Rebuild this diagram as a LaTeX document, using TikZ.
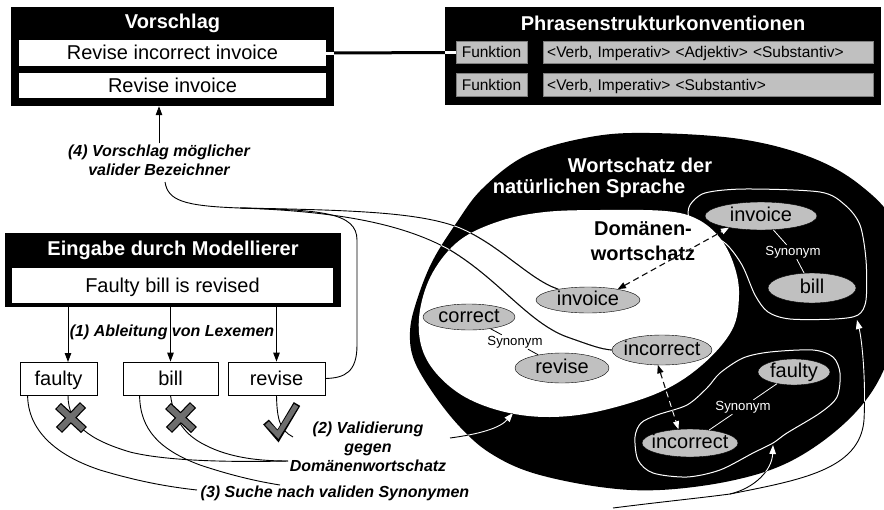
\documentclass[tikz,border=0pt]{standalone}
\usepackage{fontspec}
\setmainfont{Liberation Sans}
\usetikzlibrary{arrows.meta,shapes.geometric}
\definecolor{lgray}{RGB}{192,192,192}
\definecolor{mgray}{RGB}{110,110,110}
\newcommand\zc[1]{\makebox[0pt]{#1}}
\newcommand\outerpath{plot[smooth cycle, tension=0.6] coordinates {(650,133) (740,139) (810,157) (860,185) (895,225) (905,290) (895,340) (873,390) (837,430) (787,463) (730,481) (660,490) (600,487) (533,473) (490,453) (460,427) (433,393) (414,360) (410,332) (416,303) (432,262) (457,222) (483,188) (527,155) (590,137)}}
\newcommand\innerpath{plot[smooth cycle, tension=0.6] coordinates {(600,210) (665,211) (697,219) (720,238) (734,265) (739,295) (732,330) (702,365) (660,392) (600,411) (550,417) (505,412) (465,397) (436,373) (421,345) (420,310) (433,272) (460,240) (500,221) (545,212)}}
\tikzset{
  ttl/.style={font=\fontsize{20}{24}\selectfont\bfseries, text=white, inner sep=0pt},
  blk/.style={fill=black, draw=none, inner sep=0pt},
  rowbox/.style={fill=white, draw=none, inner sep=0pt, font=\fontsize{20}{24}\selectfont, text height=13pt, text depth=0pt},
  gbox/.style={fill=lgray, draw=gray, inner sep=0pt, font=\fontsize{15.5}{18}\selectfont, text height=10.5pt, text depth=0pt},
  wordbox/.style={draw=black, fill=white, line width=0.8pt, inner sep=0pt, font=\fontsize{20}{24}\selectfont, minimum height=33, text height=13pt, text depth=0pt},
  lab/.style={font=\fontsize{16}{19}\selectfont\bfseries\itshape, align=center, inner sep=1pt},
  ell/.style={ellipse, draw=black, fill=lgray, inner sep=0pt, font=\fontsize{20}{24}\selectfont, text height=10.5pt, text depth=0pt},
  syn/.style={font=\fontsize{13.2}{15}\selectfont, inner sep=1pt},
  conn/.style={draw, line width=0.9pt},
  arr/.style={-{Triangle[length=9pt,width=6.5pt]}},
  darr/.style={{Triangle[length=8pt,width=6pt]}-{Triangle[length=8pt,width=6pt]}, dash pattern=on 6pt off 4pt},
  xmk/.pic={
    \draw[line width=8.5pt] (-13,-12) -- (13,12) (12,-13) -- (-12,12);
    \draw[mgray, line width=6pt] (-12.2,-11.2) -- (12.2,11.2) (11.2,-12.2) -- (-11.2,11.2);
  },
}
\newcommand\allconns{%
  \draw[conn] (p4) .. controls (168,200) and (182,206) .. (j4);
  \draw[conn] (j4) .. controls (350,210) and (420,212) .. (460,228) .. controls (500,245) and (530,280) .. (invD.160);
  \draw[conn] (j4) .. controls (330,211) and (400,222) .. (450,250) .. controls (500,280) and (530,325) .. (570,338) .. controls (590,345) and (600,349) .. (incD.west);
  \draw[conn] (j4) .. controls (320,210) and (357,212) .. (357,240) -- (357,345) .. controls (357,372) and (345,378) .. (wr.east);
  \draw[conn,darr] (invD.20) -- (invO.200);
  \draw[conn,darr] (incD.255) -- (incO.130);
  \draw[conn,arr] (v2s) .. controls (480,434) and (500,428) .. (v2e);
  \draw[conn] (s3) .. controls (660,502) and (700,498) .. (j3);
  \draw[conn,arr] (j3) .. controls (755,488) and (772,470) .. (b2);
  \draw[conn,arr] (j3) .. controls (800,480) and (860,470) .. (864,420) .. controls (866,380) and (862,340) .. (b1);
}
\begin{document}
\begin{tikzpicture}[x=1pt,y=-1pt]
\useasboundingbox (0,0) rectangle (884,509);

% ---------- Vorschlag ----------
\node[blk, minimum width=323, minimum height=99] (vor) at (172.5,56.5) {};
\node[ttl] (vort) at (172.5,23) {Vorschlag};
\node[rowbox, minimum width=307, minimum height=26] (r1) at (172.5,53) {Revise incorrect invoice};
\node[rowbox, minimum width=307, minimum height=25] (r2) at (172.5,85.5) {Revise invoice};

% ---------- Phrasenstrukturkonventionen ----------
\node[blk, minimum width=436, minimum height=98] (phr) at (663,56) {};
\node[ttl] (phrt) at (663,23) {Phrasenstrukturkonventionen};
\node[gbox, minimum width=71, minimum height=22] (f1) at (491.5,52.5) {Funktion};
\node[gbox, minimum width=71, minimum height=23] (f2) at (491.5,85) {Funktion};
\node[gbox, anchor=west, text width=322, inner xsep=4pt, minimum height=22] (p1) at (543,52.5) {<Verb, Imperativ> <Adjektiv> <Substantiv>};
\node[gbox, anchor=west, text width=322, inner xsep=4pt, minimum height=23] (p2) at (543,85) {<Verb, Imperativ> <Substantiv>};
\draw[line width=3pt] (r1.east) -- (f1.west);
\draw[white, line width=3pt] (r1.east) -- (r1.east -| vor.east);
\draw[white, line width=3pt] (f1.west -| phr.west) -- (f1.west);

% ---------- Eingabe ----------
\node[blk, minimum width=336, minimum height=74] (ein) at (173,270) {};
\node[ttl] (eint) at (173,250) {Eingabe durch Modellierer};
\node[rowbox, minimum width=321, minimum height=35] (inp) at (172.5,285.5) {Faulty bill is revised};

\node[wordbox, minimum width=77] (wf) at (58.5,378.5) {faulty};
\node[wordbox, minimum width=95] (wb) at (170.5,378.5) {bill};
\node[wordbox, minimum width=97] (wr) at (276.5,378.5) {revise};
\coordinate (af) at (68,362);
\draw[conn,arr] (af |- ein.south) -- (af);
\draw[conn,arr] (wb.north |- ein.south) -- (wb.north);
\draw[conn,arr] (wr.north |- ein.south) -- (wr.north);
\node[lab] (l1) at (172,332) {(1) Ableitung von Lexemen};

% ---------- labels ----------
\node[lab] (l4) at (159,160) {(4) Vorschlag möglicher\\valider Bezeichner};
\draw[conn,arr] (l4.north) -- (l4.north |- vor.south);
\node[lab] (l2) at (368,447) {(2) Validierung\\gegen\\Domänenwortschatz};
\node[lab] (l3) at (335,493) {(3) Suche nach validen Synonymen};

\coordinate (l2w) at (288,461);
\coordinate (v2a) at (293,437);
\coordinate (l3w) at (197,490);
\coordinate (l3b) at (280,485);
\draw[conn] (af |- wf.south) .. controls (68,425) and (90,440) .. (130,452) .. controls (170,462) and (240,462) .. (l2w);
\draw[conn] (wb.south) .. controls (174,420) and (185,435) .. (205,445) .. controls (230,458) and (260,461) .. (l2w);
\draw[conn] (wr.south) .. controls (277,420) and (280,430) .. (v2a);
\draw[conn] ([xshift=8]wf.south west) .. controls (28,430) and (55,455) .. (100,470) .. controls (140,482) and (170,487) .. (l3w);
\draw[conn] ([xshift=17]wb.south west) .. controls (140,430) and (160,450) .. (200,465) .. controls (230,475) and (255,481) .. (l3b);

\pic at (71,418) {xmk};
\pic at (181,418) {xmk};
\draw[line width=7.5pt] (266,422) -- (278,436) -- (297,404);
\draw[mgray, line width=5pt] (267,423.2) -- (278,434.8) -- (296.2,405.3);

% ---------- vocabularies ----------
\fill[black] \outerpath;
\fill[white] \innerpath;

\draw[white, line width=1pt] plot[smooth cycle] coordinates {(690,205) (705,193) (745,189) (820,192) (845,205) (860,225) (866,260) (866,300) (858,315) (835,319) (790,319) (768,312) (755,295) (742,265) (725,243) (700,230) (689,218)};
\draw[white, line width=1pt] plot[smooth cycle] coordinates {(635,437) (641,423) (657,415) (687,405) (707,388) (720,373) (743,358) (770,352) (813,350) (833,357) (840,373) (837,397) (820,413) (787,433) (773,443) (753,453) (720,470) (687,477) (653,473) (638,460)};

\node[ttl] at (640,165) {Wortschatz der};
\node[ttl] at (589,188) {natürlichen Sprache};
\node[font=\fontsize{20}{25}\selectfont\bfseries, align=center, inner sep=0pt] (dom) at (643,241) {Domänen-\\wortschatz};

\node[ell, minimum width=104, minimum height=26] (invD) at (588,300) {\zc{invoice}};
\node[ell, minimum width=92, minimum height=26] (corD) at (469,317) {\zc{correct}};
\node[ell, minimum width=94, minimum height=30] (revD) at (562,368) {\zc{revise}};
\node[ell, minimum width=100, minimum height=30] (incD) at (662,350) {\zc{incorrect}};
\node[ell, minimum width=112, minimum height=28] (invO) at (761,216) {\zc{invoice}};
\node[ell, minimum width=88, minimum height=30] (billO) at (812,288) {\zc{bill}};
\node[ell, minimum width=72, minimum height=26] (fauO) at (794,372) {\zc{faulty}};
\node[ell, minimum width=96, minimum height=28] (incO) at (690,443) {\zc{incorrect}};

\node[syn] (s1) at (515,342) {Synonym};
\node[syn, text=white] (s2) at (793,252) {Synonym};
\node[syn, text=white] (s3n) at (743,407) {Synonym};
\draw[line width=0.8pt] (corD) -- (s1) -- (revD);
\draw[white, line width=0.8pt] (invO) -- (s2) -- (billO);
\draw[white, line width=0.8pt] (fauO) -- (s3n) -- (incO);

% ---------- connectors ----------
\coordinate (p4) at (165,182);
\coordinate (j4) at (240,208);
\coordinate (v2s) at (450,438);
\coordinate (v2e) at (513,413);
\coordinate (s3) at (613,508);
\coordinate (j3) at (730,494);
\coordinate (b2) at (773,445);
\coordinate (b1) at (857,320);

\allconns
\begin{scope}
  \clip \outerpath;
  \begin{scope}[white]
    \allconns
  \end{scope}
\end{scope}
\begin{scope}
  \clip \innerpath;
  \allconns
\end{scope}
\end{tikzpicture}
\end{document}
